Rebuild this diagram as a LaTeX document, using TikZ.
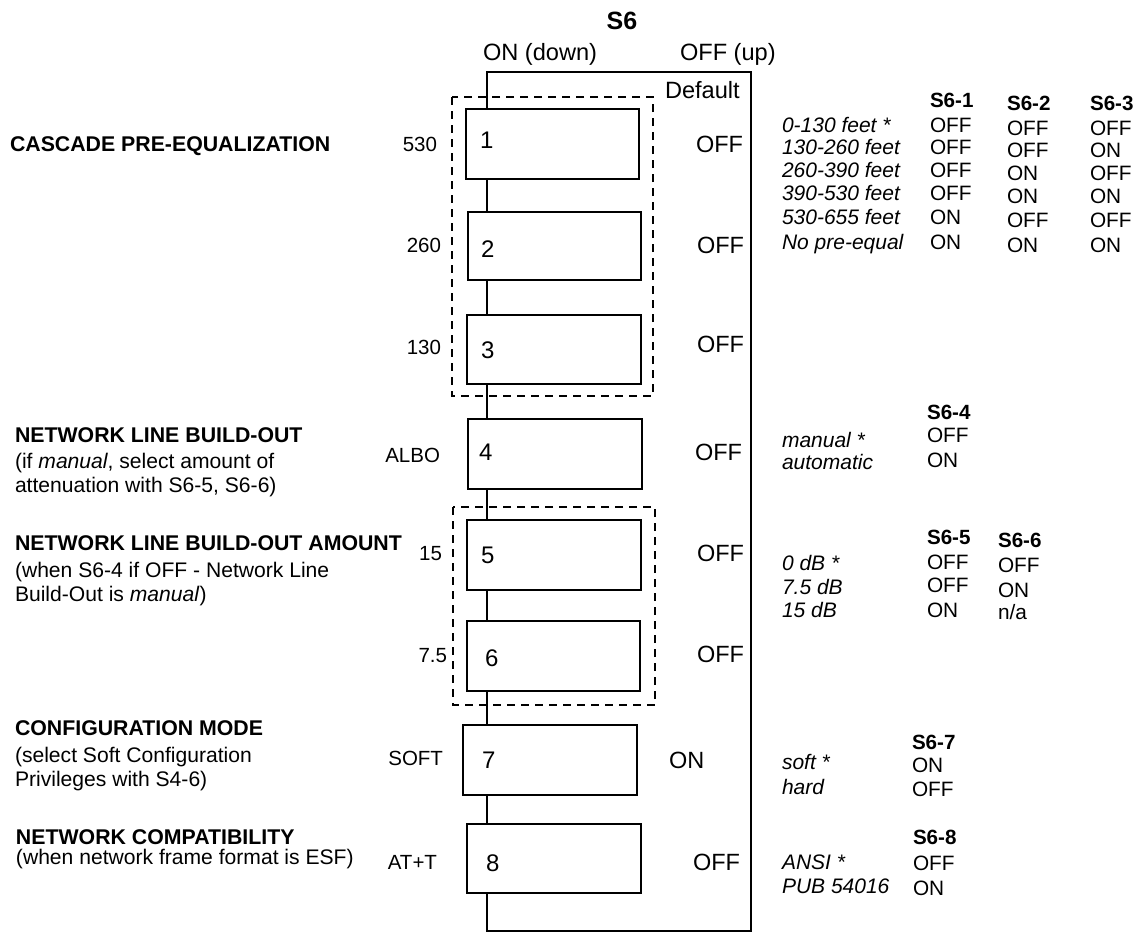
\documentclass[tikz,border=0pt]{standalone}
\usepackage{fontspec}
\setmainfont{Liberation Sans}
\begin{document}
\begin{tikzpicture}[x=1pt,y=-1pt,
  txt/.style={inner sep=0pt,outer sep=0pt,anchor=base west},
  hd/.style={txt,font=\fontsize{21.3}{25}\selectfont\bfseries},
  sub/.style={txt,font=\fontsize{21.1}{25}\selectfont},
  tab/.style={txt,font=\fontsize{20.8}{25}\selectfont},
  tabi/.style={txt,font=\fontsize{21}{25}\selectfont\itshape},
  tabh/.style={txt,font=\fontsize{20.6}{25}\selectfont\bfseries},
  lbl/.style={inner sep=0pt,outer sep=0pt,anchor=base east,font=\fontsize{20.5}{24}\selectfont},
  dig/.style={txt,font=\fontsize{24}{28}\selectfont},
  val/.style={txt,font=\fontsize{23.5}{28}\selectfont},
  top/.style={txt,font=\fontsize{23.6}{28}\selectfont},
  swbox/.style={draw,line width=1.6pt,fill=white,inner sep=0pt,minimum width=173pt,minimum height=70pt},
  frame/.style={line width=1.6pt},
  grp/.style={line width=1.4pt,dash pattern=on 8pt off 6pt}
]
\useasboundingbox (0,0) rectangle (1141,934);

% dashed groups
\draw[grp] (452,97) rectangle (653,396);
\draw[grp] (453,507) rectangle (655,705);

% frame corners
\coordinate (spine) at (487,500);
\coordinate (ftl) at (487,72);
\coordinate (ftr) at (751,72);
\coordinate (fbr) at (751,931);
\coordinate (fbl) at (487,931);

% switch boxes
\node[swbox,minimum width=173pt,minimum height=70pt] (sw1) at (552.5,144) {};
\node[swbox,minimum width=173pt,minimum height=68pt] (sw2) at (554.5,246) {};
\node[swbox,minimum width=174pt,minimum height=69pt] (sw3) at (554,349.5) {};
\node[swbox,minimum width=174pt,minimum height=70pt] (sw4) at (555,454) {};
\node[swbox,minimum width=174pt,minimum height=70pt] (sw5) at (554,555) {};
\node[swbox,minimum width=173pt,minimum height=70pt] (sw6) at (553.5,656) {};
\node[swbox,minimum width=174pt,minimum height=70pt] (sw7) at (550,760) {};
\node[swbox,minimum width=174pt,minimum height=69pt] (sw8) at (554,858.5) {};

% frame and spine connectors
\draw[frame] (sw1.north -| spine) -- (ftl) -- (ftr) -- (fbr) -- (fbl) -- (sw8.south -| spine);
\draw[frame] (sw1.south -| spine) -- (sw2.north -| spine);
\draw[frame] (sw2.south -| spine) -- (sw3.north -| spine);
\draw[frame] (sw3.south -| spine) -- (sw4.north -| spine);
\draw[frame] (sw4.south -| spine) -- (sw5.north -| spine);
\draw[frame] (sw5.south -| spine) -- (sw6.north -| spine);
\draw[frame] (sw6.south -| spine) -- (sw7.north -| spine);
\draw[frame] (sw7.south -| spine) -- (sw8.north -| spine);

% header
\node[inner sep=0pt,anchor=base,font=\fontsize{25}{30}\selectfont\bfseries] (s6) at (622,30) {S6};
\node[top] (ondown) at (483,60.5) {ON (down)};
\node[top] (offup) at (680,60.5) {OFF (up)};
\node[top] (default) at (665,98.6) {Default};

% digits
\node[dig] (d1) at (480,148.6) {1};
\node[dig] (d2) at (481,257.6) {2};
\node[dig] (d3) at (481,358.6) {3};
\node[dig] (d4) at (479,460.6) {4};
\node[dig] (d5) at (481,563.6) {5};
\node[dig] (d6) at (485,666.6) {6};
\node[dig] (d7) at (482,768.6) {7};
\node[dig] (d8) at (486,871.6) {8};

% defaults
\node[val] (v1) at (696,152.4) {OFF};
\node[val] (v2) at (697,253.4) {OFF};
\node[val] (v3) at (697,352.4) {OFF};
\node[val] (v4) at (695,460.4) {OFF};
\node[val] (v5) at (697,561.4) {OFF};
\node[val] (v6) at (697,662.4) {OFF};
\node[val] (v7) at (669,768.4) {ON};
\node[val] (v8) at (693,870.4) {OFF};

% small left labels
\node[lbl] (l1) at (437,151) {530};
\node[lbl] (l2) at (441,252) {260};
\node[lbl] (l3) at (441,354) {130};
\node[lbl] (l4) at (440,462) {ALBO};
\node[lbl] (l5) at (442,560) {15};
\node[lbl] (l6) at (447,662) {7.5};
\node[lbl] (l7) at (443,765) {SOFT};
\node[lbl] (l8) at (437,869) {AT+T};

% left headings
\node[hd] (h1) at (10,151.6) {CASCADE PRE-EQUALIZATION};
\node[hd] (h2) at (15,442.6) {NETWORK LINE BUILD-OUT};
\node[sub] (h2a) at (15,468.5) {(if \textit{manual}, select amount of};
\node[sub] (h2b) at (15,492.5) {attenuation with S6-5, S6-6)};
\node[hd] (h3) at (15,550.6) {NETWORK LINE BUILD-OUT AMOUNT};
\node[sub] (h3a) at (15,577.5) {(when S6-4 if OFF - Network Line};
\node[sub] (h3b) at (15,601.5) {Build-Out is \textit{manual})};
\node[hd] (h4) at (15,735.6) {CONFIGURATION MODE};
\node[sub] (h4a) at (15,762.5) {(select Soft Configuration};
\node[sub] (h4b) at (15,786) {Privileges with S4-6)};
\node[hd] (h5) at (16,844.6) {NETWORK COMPATIBILITY};
\node[sub] (h5a) at (16,864.5) {(when network frame format is ESF)};

% table S6-1..3
\node[tabh] (t1h1) at (930,107.5) {S6-1};
\node[tabh] (t1h2) at (1007,110.5) {S6-2};
\node[tabh] (t1h3) at (1090,110.5) {S6-3};
\node[tabi] (r1) at (782,132.5) {0-130 feet *};
\node[tabi] (r2) at (782,154.5) {130-260 feet};
\node[tabi] (r3) at (782,177.5) {260-390 feet};
\node[tabi] (r4) at (782,200.5) {390-530 feet};
\node[tabi] (r5) at (782,224.5) {530-655 feet};
\node[tabi] (r6) at (782,249.5) {No pre-equal};
\node[tab] (c11) at (930,132.5) {OFF};
\node[tab] (c12) at (930,154.5) {OFF};
\node[tab] (c13) at (930,177.5) {OFF};
\node[tab] (c14) at (930,200.5) {OFF};
\node[tab] (c15) at (930,224.5) {ON};
\node[tab] (c16) at (930,249.5) {ON};
\node[tab] (c21) at (1007,135.5) {OFF};
\node[tab] (c22) at (1007,157.5) {OFF};
\node[tab] (c23) at (1007,180.5) {ON};
\node[tab] (c24) at (1007,203.5) {ON};
\node[tab] (c25) at (1007,227.5) {OFF};
\node[tab] (c26) at (1007,252.5) {ON};
\node[tab] (c31) at (1090,135.5) {OFF};
\node[tab] (c32) at (1090,157.5) {ON};
\node[tab] (c33) at (1090,180.5) {OFF};
\node[tab] (c34) at (1090,203.5) {ON};
\node[tab] (c35) at (1090,227.5) {OFF};
\node[tab] (c36) at (1090,252.5) {ON};

% table S6-4
\node[tabh] (t2h) at (927,419.5) {S6-4};
\node[tabi] (m1) at (782,447.5) {manual *};
\node[tabi] (m2) at (782,469.5) {automatic};
\node[tab] (m1v) at (927,442.5) {OFF};
\node[tab] (m2v) at (927,467.5) {ON};

% table S6-5, S6-6
\node[tabh] (t3h1) at (927,544.5) {S6-5};
\node[tabh] (t3h2) at (998,547.5) {S6-6};
\node[tabi] (a1) at (782,570.5) {0 dB *};
\node[tabi] (a2) at (782,594.5) {7.5 dB};
\node[tabi] (a3) at (782,617.5) {15 dB};
\node[tab] (a1v) at (927,569.5) {OFF};
\node[tab] (a2v) at (927,592.5) {OFF};
\node[tab] (a3v) at (927,617.5) {ON};
\node[tab] (a1w) at (998,572.5) {OFF};
\node[tab] (a2w) at (998,597.5) {ON};
\node[tab] (a3w) at (998,619.5) {n/a};

% table S6-7
\node[tabh] (t4h) at (912,749.5) {S6-7};
\node[tabi] (s1) at (782,769.5) {soft *};
\node[tabi] (s2) at (782,794.5) {hard};
\node[tab] (s1v) at (912,772.5) {ON};
\node[tab] (s2v) at (912,796.5) {OFF};

% table S6-8
\node[tabh] (t5h) at (913,844.5) {S6-8};
\node[tabi] (p1) at (782,869.5) {ANSI *};
\node[tabi] (p2) at (782,893.5) {PUB 54016};
\node[tab] (p1v) at (913,870.5) {OFF};
\node[tab] (p2v) at (913,895.5) {ON};
\end{tikzpicture}
\end{document}
